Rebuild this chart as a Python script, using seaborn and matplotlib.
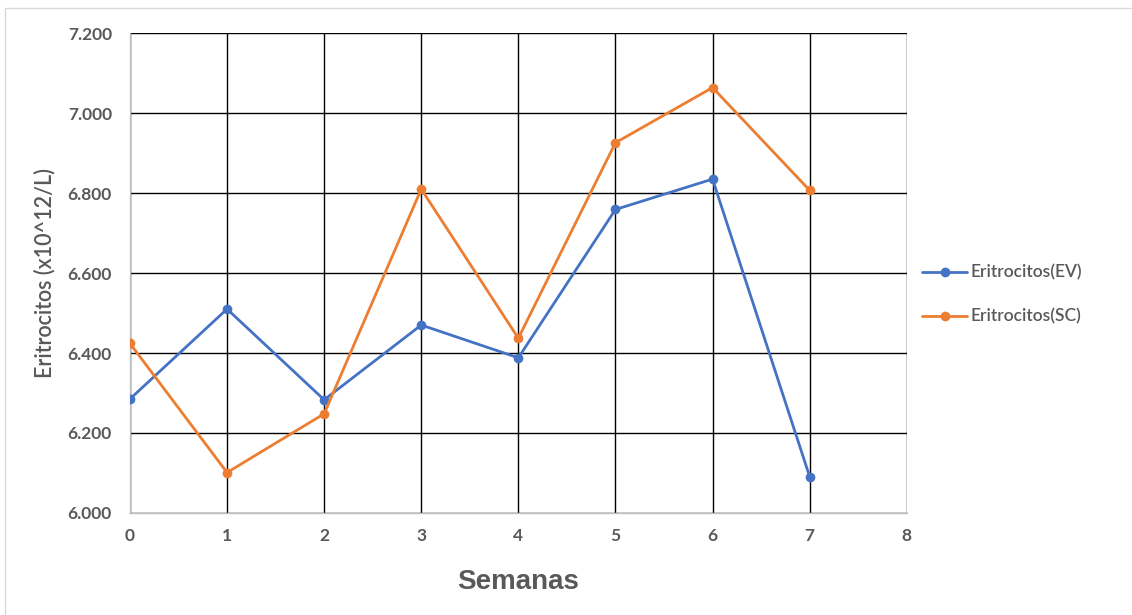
import pandas as pd
import numpy as np
import seaborn as sns
import matplotlib
matplotlib.use('Agg')
import matplotlib.pyplot as plt
from matplotlib.patches import Rectangle

# Values
semanas = [0, 1, 2, 3, 4, 5, 6, 7]
eritro_ev = [6.285, 6.510, 6.283, 6.470, 6.388, 6.759, 6.835, 6.091]
eritro_sc = [6.424, 6.101, 6.248, 6.810, 6.437, 6.926, 7.064, 6.807]
series_names = ['Eritrocitos(EV)', 'Eritrocitos(SC)']
colors = ['#4472C4', '#ED7D31']

df = pd.DataFrame({
    'Semanas': semanas * 2,
    'valor': eritro_ev + eritro_sc,
    'serie': [series_names[0]] * len(semanas) + [series_names[1]] * len(semanas),
})

sns.set_theme(style='white')
plt.rcParams['font.family'] = ['Lato', 'DejaVu Sans']

fig = plt.figure(figsize=(11.32, 6.15), dpi=100)
ax = fig.add_axes([0.1148, 0.166, 0.6862, 0.780])

sns.lineplot(data=df, x='Semanas', y='valor', hue='serie', palette=colors,
             marker='o', markersize=7, markeredgewidth=0, linewidth=2,
             ax=ax, zorder=3)

grey = '#595959'
ax.set_xlim(0, 8)
ax.set_ylim(6.0, 7.2)
ax.set_xticks(range(0, 9))
ax.set_yticks(np.arange(6.0, 7.21, 0.2))
ax.set_yticklabels([f'{v:.3f}' for v in np.arange(6.0, 7.21, 0.2)])
ax.grid(True, color='black', linewidth=1)
ax.set_axisbelow(True)
ax.tick_params(length=0, labelsize=12.5, labelcolor=grey)
ax.tick_params(axis='y', pad=13)
ax.tick_params(axis='x', pad=11)
for lbl in ax.get_xticklabels() + ax.get_yticklabels():
    lbl.set_fontweight('bold')

for side in ['top', 'right']:
    ax.spines[side].set_visible(False)
for side in ['left', 'bottom']:
    ax.spines[side].set_color('#BFBFBF')
    ax.spines[side].set_linewidth(1)

ax.set_ylabel('Eritrocitos (x10^12/L)', fontsize=15.5, fontweight='semibold',
              color=grey, labelpad=9)
ax.set_xlabel('Semanas', fontsize=20, fontweight='bold', color=grey,
              family=['Liberation Sans', 'DejaVu Sans'], labelpad=18)

leg = ax.legend(loc='center left', bbox_to_anchor=(1.0, 0.455), frameon=False,
                fontsize=12.5, handlelength=2.6, labelspacing=1.6, handletextpad=0.2)
for t in leg.get_texts():
    t.set_color(grey)
    t.set_fontweight('semibold')

# light outer border like the original chart frame
fig.patches.append(Rectangle((0.004, -0.01), 1.0, 0.997, transform=fig.transFigure,
                             fill=False, edgecolor='#D9D9D9', linewidth=1))

fig.savefig('out.png', dpi=100)
